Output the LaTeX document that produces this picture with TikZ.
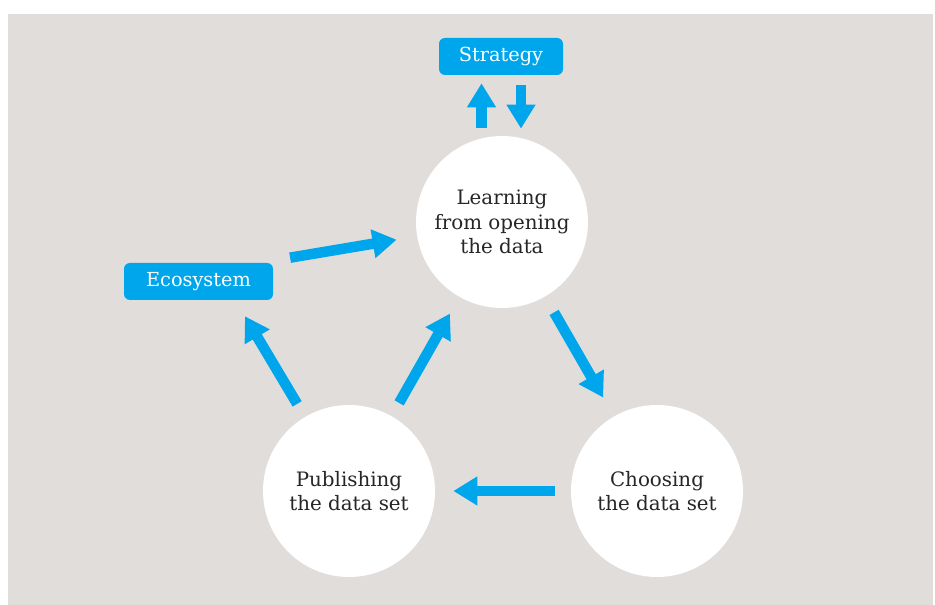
\documentclass[tikz,border=0pt]{standalone}
\usepackage{fontspec}
\setmainfont{DejaVu Serif}
\usetikzlibrary{arrows.meta}

\definecolor{bggray}{RGB}{225,221,219}
\definecolor{cycblue}{RGB}{0,166,235}

\begin{document}
\begin{tikzpicture}[
        stage/.style={circle, fill=white, minimum size=3.44cm, inner sep=0pt,
            align=center, text=black!85, font=\fontsize{11.3}{13.8}\selectfont},
        tag/.style={rounded corners=3.4pt, fill=cycblue, text=white,
            minimum height=0.74cm, inner sep=0pt, font=\fontsize{11}{13.6}\selectfont},
        flow/.style={draw=cycblue, line width=0.21cm,
            -{Triangle[length=0.48cm, width=0.55cm]}}
    ]
    \useasboundingbox (0,0) rectangle (18.7,12.1);
    \fill[bggray] (0.16,0) rectangle (18.66,11.82);

    \node [stage] (learn)  at (10.04,7.66) {Learning\\from opening\\the data};
    \node [stage] (pub)    at (6.98,2.28)  {Publishing\\the data set};
    \node [stage] (choose) at (13.14,2.28) {Choosing\\the data set};

    \node [tag, minimum width=2.98cm] (eco)   at (3.97,6.47)  {Ecosystem};
    \node [tag, minimum width=2.48cm] (strat) at (10.02,10.97) {Strategy};

    \draw[flow, shorten <=0.36cm, shorten >=0.43cm] (learn) -- (choose);
    \draw[flow, shorten <=0.32cm, shorten >=0.36cm] (choose) -- (pub);
    \draw[flow, shorten <=0.30cm, shorten >=0.38cm] (pub) -- (learn);
    \draw[flow, shorten <=0.30cm, shorten >=0.37cm] (pub) -- ([xshift=0.74cm]eco.south);
    \draw[flow, shorten <=0.34cm, shorten >=0.41cm] ([yshift=0.42cm]eco.east) -- (learn);

    \draw[flow, shorten <=0.16cm, shorten >=0.16cm]
        ([xshift=-0.41cm]learn.north) -- ([xshift=-0.41cm]learn.north |- strat.south);
    \draw[flow, shorten <=0.20cm, shorten >=0.14cm]
        ([xshift=0.38cm]learn.north |- strat.south) -- ([xshift=0.38cm]learn.north);
\end{tikzpicture}
\end{document}
